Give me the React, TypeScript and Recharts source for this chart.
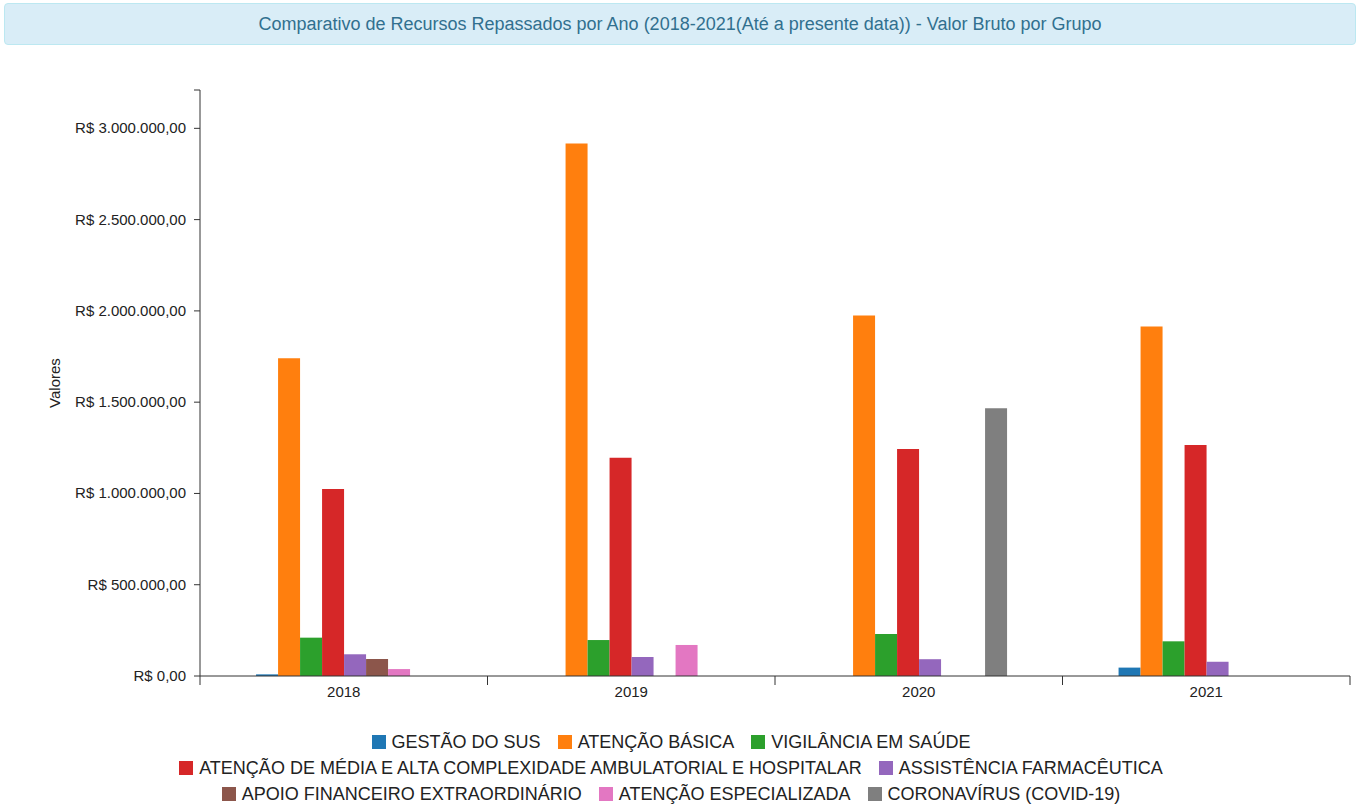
import React from 'react';
import { BarChart, Bar, XAxis, YAxis } from 'recharts';

const TITLE = 'Comparativo de Recursos Repassados por Ano (2018-2021(Até a presente data)) - Valor Bruto por Grupo';
const categories = ['2018', '2019', '2020', '2021'];

const seriesNames = [
  'GESTÃO DO SUS',
  'ATENÇÃO BÁSICA',
  'VIGILÂNCIA EM SAÚDE',
  'ATENÇÃO DE MÉDIA E ALTA COMPLEXIDADE AMBULATORIAL E HOSPITALAR',
  'ASSISTÊNCIA FARMACÊUTICA',
  'APOIO FINANCEIRO EXTRAORDINÁRIO',
  'ATENÇÃO ESPECIALIZADA',
  'CORONAVÍRUS (COVID-19)',
];
const seriesColors = ['#1f77b4', '#ff7f0e', '#2ca02c', '#d62728', '#9467bd', '#8c564b', '#e377c2', '#7f7f7f'];

const gestaoSus = [9000, 0, 0, 46000];
const atencaoBasica = [1741000, 2917000, 1975000, 1914000];
const vigilancia = [210000, 197000, 230000, 190000];
const mediaAlta = [1025000, 1196000, 1244000, 1266000];
const farmaceutica = [119000, 104000, 92000, 78000];
const apoioFinanceiro = [93000, 0, 0, 0];
const especializada = [38000, 170000, 0, 0];
const covid = [0, 0, 1467000, 0];

const seriesValues = [gestaoSus, atencaoBasica, vigilancia, mediaAlta, farmaceutica, apoioFinanceiro, especializada, covid];

const yTicks = [0, 500000, 1000000, 1500000, 2000000, 2500000, 3000000];
const Y_MAX = 3210000;

const legendRows = [[0, 1, 2], [3, 4], [5, 6, 7]];

const data = categories.map((c, i) => {
  const row: Record<string, any> = { year: c };
  seriesNames.forEach((n, s) => {
    row['s' + s] = seriesValues[s][i];
  });
  return row;
});

const FONT = '"Liberation Sans", Arial, Helvetica, sans-serif';

const fmtBRL = (v: number) => {
  const int = Math.round(v).toString().replace(/\B(?=(\d{3})+(?!\d))/g, '.');
  return 'R$ ' + int + ',00';
};

const YTick = (props: any) => {
  const { x, y, payload } = props;
  if (payload.value === Y_MAX) return <g />;
  return (
    <text x={x} y={y} dy={5} textAnchor="end" fontSize={15} fill="#222" fontFamily={FONT}>
      {fmtBRL(payload.value)}
    </text>
  );
};

const XTick = (props: any) => {
  const { x, y, payload, index } = props;
  const off = payload.offset || 143.75;
  const top = y - 8;
  return (
    <g>
      <line x1={x - off} x2={x - off} y1={top} y2={top + 9} stroke="#333" />
      {index === categories.length - 1 && (
        <line x1={x + off} x2={x + off} y1={top} y2={top + 9} stroke="#333" />
      )}
      <text x={x} y={top + 21} textAnchor="middle" fontSize={15} fill="#222" fontFamily={FONT}>
        {payload.value}
      </text>
    </g>
  );
};

const YLabel = (props: any) => {
  const vb = props.viewBox || { x: 0, y: 90, height: 586 };
  const cx = 55;
  const cy = vb.y + vb.height / 2;
  return (
    <text x={cx} y={cy} transform={`rotate(-90 ${cx} ${cy})`} textAnchor="middle" dy={5} fontSize={15} fill="#222" fontFamily={FONT}>
      Valores
    </text>
  );
};

export default function App() {
  return (
    <div style={{ position: 'absolute', left: 0, top: 0, width: 1359, height: 809, background: '#fff', fontFamily: FONT }}>
      <div
        style={{
          position: 'absolute',
          left: 4,
          top: 3,
          width: 1350,
          height: 40,
          background: '#d9edf7',
          border: '1px solid #bce8f1',
          borderRadius: 4,
          color: '#31708f',
          fontSize: 18,
          lineHeight: '40px',
          textAlign: 'center',
        }}
      >
        {TITLE}
      </div>
      <div style={{ position: 'absolute', left: 0, top: 0 }}>
        <BarChart
          width={1359}
          height={720}
          data={data}
          margin={{ top: 90, right: 9, bottom: 0, left: 0 }}
          barCategoryGap="19.5%"
          barGap={0}
        >
          <XAxis
            dataKey="year"
            tickLine={false}
            axisLine={{ stroke: '#333' }}
            tick={<XTick />}
            interval={0}
            height={44}
          />
          <YAxis
            width={200}
            domain={[0, Y_MAX]}
            ticks={[...yTicks, Y_MAX]}
            interval={0}
            tickSize={6}
            tickMargin={8}
            tickLine={{ stroke: '#333' }}
            axisLine={{ stroke: '#333' }}
            tick={<YTick />}
            label={<YLabel />}
            allowDataOverflow
          />
          {seriesNames.map((n, s) => (
            <Bar key={n} dataKey={'s' + s} name={n} fill={seriesColors[s]} isAnimationActive={false} />
          ))}
        </BarChart>
      </div>
      <div style={{ position: 'absolute', left: 0, top: 729, width: 1359 }}>
        {legendRows.map((row, r) => (
          <div key={r} style={{ display: 'flex', justifyContent: 'center', height: 26, alignItems: 'center' }}>
            {row.map((s) => (
              <div key={s} style={{ display: 'flex', alignItems: 'center', marginRight: 17 }}>
                <span style={{ display: 'inline-block', width: 14, height: 14, background: seriesColors[s], marginRight: 6 }} />
                <span style={{ fontSize: 18, color: '#222', whiteSpace: 'nowrap' }}>{seriesNames[s]}</span>
              </div>
            ))}
          </div>
        ))}
      </div>
    </div>
  );
}
